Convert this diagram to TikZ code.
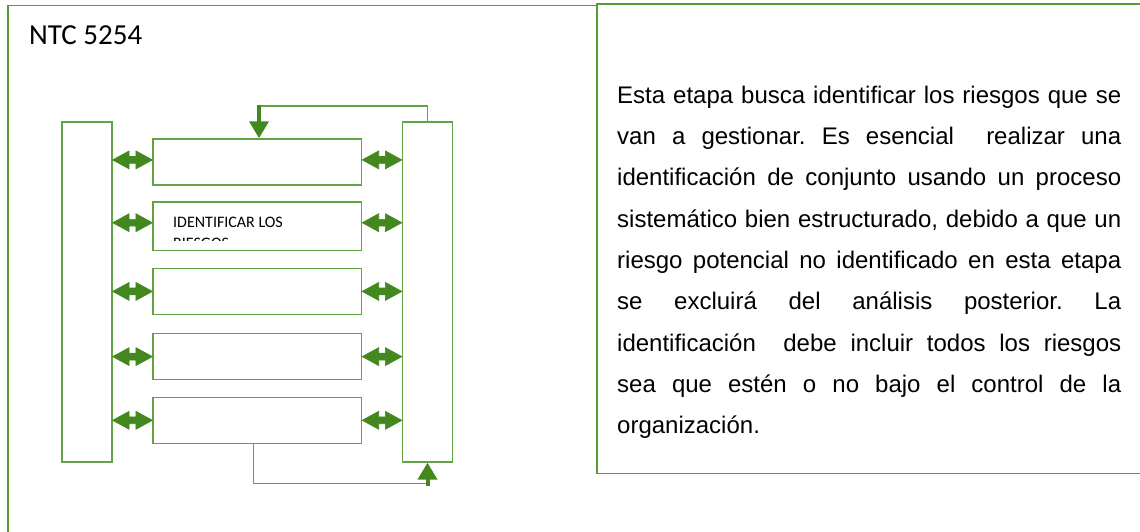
\documentclass[tikz,border=0pt]{standalone}
\usepackage{fontspec}
\setmainfont{Liberation Sans}
\newfontfamily\calib{Carlito}
\usetikzlibrary{arrows.meta,calc}
\definecolor{lgreen}{HTML}{62A443}
\definecolor{frgreen}{HTML}{5A9A36}
\definecolor{dgreen}{HTML}{43881E}
\newcommand\jline[1]{\makebox[504pt][s]{#1}}
\begin{document}
\begin{tikzpicture}[x=1pt,y=-1pt,
  box/.style={draw=lgreen,line width=1.3pt,inner sep=0pt},
  dbl/.style={draw=dgreen,line width=0.6pt,line join=miter,fill=dgreen,to path={let \p1=(\tikztostart), \p2=(\tikztotarget) in
     (\x1,\y1) -- (\x1+16.5pt,\y1+9pt) -- (\x1+16.5pt,\y1+3.4pt) -- (\x2-16.5pt,\y2+3.4pt) -- (\x2-16.5pt,\y2+9pt)
     -- (\x2,\y2) -- (\x2-16.5pt,\y2-9pt) -- (\x2-16.5pt,\y2-3.4pt) -- (\x1+16.5pt,\y1-3.4pt) -- (\x1+16.5pt,\y1-9pt) -- cycle}},
  fb/.style={draw=lgreen,line width=1.3pt},
  fbarrow/.style={draw=dgreen,line width=4pt,-{Triangle[length=17pt,width=19pt]}},
  frm/.style={draw=frgreen,line width=1.3pt},
  txt/.style={anchor=base west,inner sep=0pt,font=\fontsize{24}{41.3}\selectfont\frenchspacing}]
\useasboundingbox (0,0) rectangle (1140,531);
% frames
\draw[frm] (8,540) -- (8,5.5) -- (597,5.5);
\draw[frm] (1150,4) -- (597,4) -- (597,473.3) -- (1150,473.3);
% title
\node[anchor=base west,inner sep=0pt,font=\calib\fontsize{29}{35}\selectfont] (title) at (29,44) {NTC 5254};
% bars
\node[box,minimum width=50pt,minimum height=340pt] (L) at (87,292) {};
\node[box,minimum width=50pt,minimum height=340pt] (R) at (427.5,292) {};
% rows
\node[box,minimum width=208.5pt,minimum height=46pt] (r1) at (257.3,161.9) {};
\node[box,minimum width=208.5pt,minimum height=48.5pt] (r2) at (257.3,226.2) {};
\node[box,minimum width=208.5pt,minimum height=46pt] (r3) at (257.3,291.4) {};
\node[box,minimum width=208.5pt,minimum height=46pt] (r4) at (257.3,356.6) {};
\node[box,minimum width=208.5pt,minimum height=46pt] (r5) at (257.3,420.3) {};
% row label (clipped)
\begin{scope}
\clip (153,202) rectangle (361,240.8);
\node[anchor=base west,inner sep=0pt,font=\calib\fontsize{16}{21}\selectfont] (lab1) at (173,227.3) {IDENTIFICAR LOS};
\node[anchor=base west,inner sep=0pt,font=\calib\fontsize{16}{21}\selectfont] (lab2) at (173,248.3) {RIESGOS};
\end{scope}
% arrow anchor points
\coordinate (a1l) at ([yshift=2pt]r1.west);
\coordinate (a1r) at ([yshift=2pt]r1.east);
\coordinate (a2l) at ([yshift=3.5pt]r2.west);
\coordinate (a2r) at ([yshift=3.5pt]r2.east);
% double arrows
\draw[dbl] (L.east |- a1l) to (a1l);
\draw[dbl] (a1r) to (R.west |- a1r);
\draw[dbl] (L.east |- a2l) to (a2l);
\draw[dbl] (a2r) to (R.west |- a2r);
\draw[dbl] (L.east |- r3.west) to (r3.west);
\draw[dbl] (r3.east) to (R.west |- r3.east);
\draw[dbl] (L.east |- r4.west) to (r4.west);
\draw[dbl] (r4.east) to (R.west |- r4.east);
\draw[dbl] (L.east |- r5.west) to (r5.west);
\draw[dbl] (r5.east) to (R.west |- r5.east);
% feedback top
\coordinate (tc) at (259,106);
\coordinate (tcs) at (259,104.5);
\draw[fb] (R.north) |- (tc);
\draw[fbarrow] (tcs) -- (tc |- r1.north);
% feedback bottom
\coordinate (bc) at (427.5,483.6);
\coordinate (bcs) at (427.5,486);
\coordinate (bst) at (253.4,443.3);
\draw[fb] (bst) |- (bc);
\draw[fbarrow] (bcs) -- (R.south);
% text
\node[txt] (t1) at (617,103.3) {\jline{Esta etapa busca identificar los riesgos que se}};
\node[txt] (t2) at (617,144.6) {\jline{van a gestionar. Es esencial\ \ realizar una}};
\node[txt] (t3) at (617,185.9) {\jline{identificación de conjunto usando un proceso}};
\node[txt] (t4) at (617,227.2) {\jline{sistemático bien estructurado, debido a que un}};
\node[txt] (t5) at (617,268.5) {\jline{riesgo potencial no identificado en esta etapa}};
\node[txt] (t6) at (617,309.8) {\jline{se excluirá del análisis posterior. La}};
\node[txt] (t7) at (617,351.1) {\jline{identificación\ \ debe incluir todos los riesgos}};
\node[txt] (t8) at (617,392.4) {\jline{sea que estén o no bajo el control de la}};
\node[txt] (t9) at (617,433.7) {organización.};
\end{tikzpicture}
\end{document}
